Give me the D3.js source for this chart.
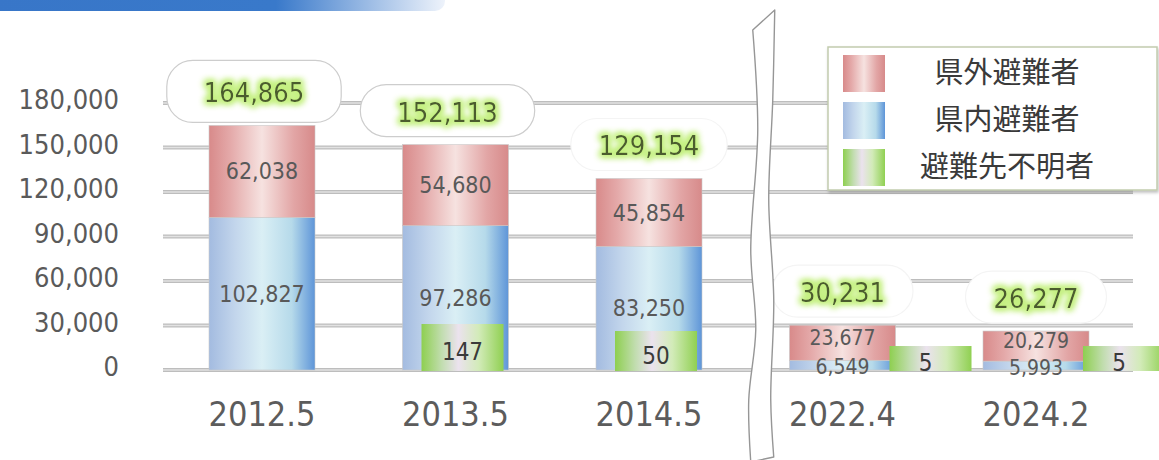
<!DOCTYPE html>
<html>
<head>
<meta charset="utf-8">
<script src="https://cdn.jsdelivr.net/npm/d3@7"></script>
<style>
  body { margin: 0; background: #fff; }
  svg { display: block; }
  .num { font-family: "DejaVu Sans Condensed", "DejaVu Sans", sans-serif; font-stretch: condensed; }
</style>
</head>
<body>
<svg id="chart" width="1159" height="460"></svg>
<script>
// data
var categories = ["2012.5", "2013.5", "2014.5", "2022.4", "2024.2"];
var outsidePref = [62038, 54680, 45854, 23677, 20279];   // 県外避難者
var insidePref = [102827, 97286, 83250, 6549, 5993];     // 県内避難者
var unknownDest = [null, 147, 50, 5, 5];                 // 避難先不明者
var totals = [164865, 152113, 129154, 30231, 26277];
var yTicks = [0, 30000, 60000, 90000, 120000, 150000, 180000];
var seriesNames = ["県外避難者", "県内避難者", "避難先不明者"];

var svg = d3.select("#chart");
var defs = svg.append("defs");

// scales
var y = d3.scaleLinear().domain([0, 180000]).range([370, 103]);
var x = d3.scalePoint().domain(categories).range([262, 1036]);
// the small "unknown" bars are not on the main scale, they sit on a log one
var yUnknown = d3.scaleLog().domain([1, 1000]).range([356.5, 311.5]);
var barW = 106, greenW = 82;
var gridLeft = 163, gridRight = 1133;
var breakX = (x(categories[2]) + x(categories[3])) / 2 + 17;

// gradients
function hGrad(id, stops) {
  var g = defs.append("linearGradient").attr("id", id)
    .attr("x1", "0%").attr("x2", "100%").attr("y1", "0%").attr("y2", "0%");
  stops.forEach(function(s) {
    g.append("stop").attr("offset", s[0]).attr("stop-color", s[1]);
  });
}
hGrad("gPink", [["0%", "#d88a8a"], ["20%", "#e4a9a9"], ["50%", "#f6e2e0"], ["80%", "#e2a5a5"], ["100%", "#d78a8a"]]);
hGrad("gBlue", [["0%", "#a3bbe0"], ["25%", "#c3d6ec"], ["50%", "#daeff5"], ["78%", "#b6daea"], ["100%", "#5e95d8"]]);
hGrad("gGreen", [["0%", "#8ecf50"], ["25%", "#c2ddb0"], ["45%", "#ebe2ee"], ["70%", "#d2ebb8"], ["100%", "#90d052"]]);
hGrad("gHeader", [["0%", "#3876c8"], ["63%", "#3979ca"], ["100%", "#eef3fb"]]);

// glow for totals
var glow = defs.append("filter").attr("id", "glow")
  .attr("x", "-20%").attr("y", "-50%").attr("width", "140%").attr("height", "200%");
glow.append("feMorphology").attr("in", "SourceAlpha").attr("operator", "dilate").attr("radius", 2).attr("result", "fat");
glow.append("feGaussianBlur").attr("in", "fat").attr("stdDeviation", 3).attr("result", "blur");
glow.append("feFlood").attr("flood-color", "#c4f080");
glow.append("feComposite").attr("in2", "blur").attr("operator", "in").attr("result", "halo");
var gm = glow.append("feMerge");
gm.append("feMergeNode").attr("in", "halo");
gm.append("feMergeNode").attr("in", "halo");
gm.append("feMergeNode").attr("in", "SourceGraphic");

var shadow = defs.append("filter").attr("id", "shadow")
  .attr("x", "-5%").attr("y", "-5%").attr("width", "115%").attr("height", "120%");
shadow.append("feDropShadow").attr("dx", 1).attr("dy", 2).attr("stdDeviation", 1.5)
  .attr("flood-color", "#000").attr("flood-opacity", 0.25);

// header band
svg.append("rect")
  .attr("x", -12).attr("y", -12).attr("width", 457).attr("height", 23).attr("rx", 10)
  .attr("fill", "url(#gHeader)");

// gridlines
var grid = svg.append("g");
grid.selectAll("line.gOuter").data(yTicks).enter().append("line")
  .attr("x1", gridLeft).attr("x2", gridRight)
  .attr("y1", function(d) { return y(d); }).attr("y2", function(d) { return y(d); })
  .attr("stroke", "#bdbdbd").attr("stroke-width", 4);
grid.selectAll("line.gInner").data(yTicks).enter().append("line")
  .attr("x1", gridLeft).attr("x2", gridRight)
  .attr("y1", function(d) { return y(d); }).attr("y2", function(d) { return y(d); })
  .attr("stroke", "#e2e2e2").attr("stroke-width", 1.3);

// y axis labels
var yAxis = d3.axisLeft(y).tickValues(yTicks).tickSize(0).tickPadding(44)
  .tickFormat(d3.format(","));
var ya = svg.append("g").attr("transform", "translate(" + gridLeft + ",-3)").call(yAxis);
ya.select(".domain").remove();
ya.selectAll("text").attr("class", "num").attr("font-size", 27).attr("fill", "#5a5a5a");

// bubbles + totals
var totG = svg.append("g");
totals.forEach(function(t, i) {
  var top = y(outsidePref[i] + insidePref[i]);
  var cy = top - 33;
  var cx = x(categories[i]) - (i < 2 ? 8 : 0);
  var g = totG.append("g");
  var bub = g.append("rect");
  var txt = g.append("text").attr("class", "num")
    .attr("x", cx).attr("y", cy + 10)
    .attr("text-anchor", "middle").attr("font-size", 27)
    .attr("fill", "#4b5c2e").attr("filter", "url(#glow)")
    .text(d3.format(",")(t));
  var tw = txt.node().getComputedTextLength();
  var bw = tw + (i < 2 ? 74 : 56), bh = i === 0 ? 62 : 52;
  bub.attr("x", cx - bw / 2).attr("y", cy - bh / 2 - 1)
    .attr("width", bw).attr("height", bh).attr("rx", 26)
    .attr("fill", "#fff")
    .attr("stroke", i < 2 ? "#cdcdcd" : "#f4f4f4").attr("stroke-width", 1.2);
});

// stacked bars
var bars = svg.append("g");
categories.forEach(function(c, i) {
  var x0 = x(c) - barW / 2;
  bars.append("rect").attr("x", x0).attr("width", barW)
    .attr("y", y(insidePref[i])).attr("height", y(0) - y(insidePref[i]))
    .attr("fill", "url(#gBlue)").attr("stroke", "#c9c9c9").attr("stroke-width", 0.6);
  bars.append("rect").attr("x", x0).attr("width", barW)
    .attr("y", y(insidePref[i] + outsidePref[i])).attr("height", y(0) - y(outsidePref[i]))
    .attr("fill", "url(#gPink)").attr("stroke", "#c9c9c9").attr("stroke-width", 0.6);
});

// unknown-destination bars
categories.forEach(function(c, i) {
  if (unknownDest[i] == null) return;
  var cx = x(c) + (i < 3 ? 7 : 88);
  var top = yUnknown(unknownDest[i]);
  bars.append("rect").attr("x", cx - greenW / 2).attr("width", greenW)
    .attr("y", top).attr("height", y(0) - top + 1)
    .attr("fill", "url(#gGreen)");
  bars.append("text").attr("class", "num")
    .attr("x", cx - (i > 2 ? 5 : 0)).attr("y", (top + y(0)) / 2 + 13)
    .attr("text-anchor", "middle").attr("font-size", 24).attr("fill", "#3a3a3a")
    .text(d3.format(",")(unknownDest[i]));
});

// segment labels
categories.forEach(function(c, i) {
  var yb = y(insidePref[i]), yt = y(insidePref[i] + outsidePref[i]);
  var small = i > 2;
  bars.append("text").attr("class", "num")
    .attr("x", x(c)).attr("y", (yt + yb) / 2 + (small ? 2 : 8))
    .attr("text-anchor", "middle").attr("font-size", small ? 21 : 23).attr("fill", "#595959")
    .text(d3.format(",")(outsidePref[i]));
  bars.append("text").attr("class", "num")
    .attr("x", x(c)).attr("y", (yb + y(0)) / 2 + (small ? 9 : 8))
    .attr("text-anchor", "middle").attr("font-size", small ? 21 : 23).attr("fill", "#595959")
    .text(d3.format(",")(insidePref[i]));
});

// category labels
svg.append("g").selectAll("text").data(categories).enter().append("text")
  .attr("class", "num")
  .attr("x", function(d) { return x(d); }).attr("y", 426)
  .attr("text-anchor", "middle").attr("font-size", 34).attr("fill", "#5c5c5c")
  .text(function(d) { return d; });

// axis break
var bx = breakX - 762;
var leftEdge = [[752, 30], [757, 130], [750, 250], [755, 330], [748, 400], [750, 462]];
var rightEdge = [[773, 457], [770, 400], [773, 300], [768, 200], [772, 100], [774, 10]];
var edge = d3.line().curve(d3.curveCatmullRom)
  .x(function(p) { return p[0] + bx; }).y(function(p) { return p[1]; });
var dPath = edge(leftEdge) + "L" + edge(rightEdge).slice(1) + "Z";
svg.append("path").attr("d", dPath)
  .attr("fill", "#fff").attr("stroke", "#969696").attr("stroke-width", 1.4)
  .attr("stroke-linejoin", "round");

// legend
var lg = svg.append("g");
lg.append("rect").attr("x", 828).attr("y", 47).attr("width", 329).attr("height", 143)
  .attr("fill", "#fff").attr("stroke", "#c2ccae").attr("stroke-width", 1.5)
  .attr("filter", "url(#shadow)");
var swatchFill = ["url(#gPink)", "url(#gBlue)", "url(#gGreen)"];
var ly = d3.scalePoint().domain(seriesNames).range([73, 167]);
lg.selectAll("rect.sw").data(seriesNames).enter().append("rect")
  .attr("x", 843).attr("width", 42).attr("height", 37)
  .attr("y", function(d) { return ly(d) - 18; })
  .attr("fill", function(d, i) { return swatchFill[i]; });
lg.selectAll("text").data(seriesNames).enter().append("text")
  .attr("x", 1007).attr("y", function(d) { return ly(d) + 10; })
  .attr("text-anchor", "middle")
  .attr("font-family", "'Noto Sans CJK JP', sans-serif").attr("font-size", 29)
  .attr("fill", "#3a3a3a")
  .text(function(d) { return d; });
</script>
</body>
</html>
